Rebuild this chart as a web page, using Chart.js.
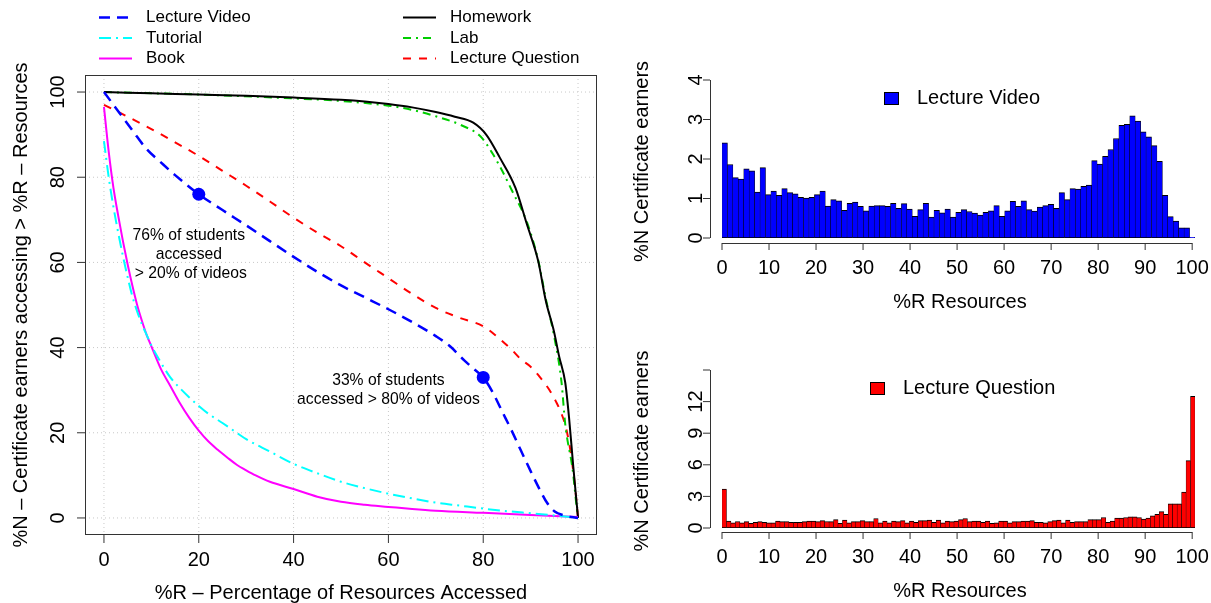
<!DOCTYPE html>
<html><head><meta charset="utf-8">
<script src="https://cdn.jsdelivr.net/npm/chart.js@4.4.1/dist/chart.umd.min.js"></script>
<style>
html,body{margin:0;padding:0;background:#fff;}
#wrap{position:relative;width:1211px;height:603px;overflow:hidden;background:#fff;}
canvas{position:absolute;left:0;top:0;}
</style></head><body>
<div id="wrap">
<canvas id="cLines" width="1211" height="603"></canvas>
<canvas id="cVideo" width="1211" height="603"></canvas>
<canvas id="cQuestion" width="1211" height="603"></canvas>
</div>
<script>
// ---------- DATA ----------
const lineTicks = [0, 20, 40, 60, 80, 100];

const videoX = [0,3,6,9,12,15,20,25,30,35,40,45,50,55,60,65,70,73,76,78,80,82,84,86,88,90,92,93.5,95,97,100];
const videoY = [100,95.5,91,86.6,83.5,80.5,76,72.3,68.7,65,61.3,57.8,54.6,51.8,49,46,42.7,40.3,37,35,33,29.5,25,20.5,15.7,11,6.5,3.5,1.6,0.6,0];

const tutorialX = [0,1,2,3,4,5,6,7,8,9,10,12,14,16,18,20,22,25,28,30,35,40,45,50,55,60,65,70,75,80,85,90,95,100];
const tutorialY = [88.5,80,73,67,61.5,56.5,52,48.5,45.5,43,40.5,36.5,33,30.5,28.3,26.3,24.5,22.3,20,18.5,15.6,12.7,10.5,8.5,7,5.7,4.6,3.6,2.9,2.2,1.6,1.1,0.6,0];

const bookX = [0,1,2,3,4,5,6,7,8,9,10,12,14,16,18,20,22,24,26,28,30,32,35,40,45,50,55,60,65,70,80,90,100];
const bookY = [96.5,86,77.5,71,65,59.5,54.5,50,46.3,43,40.3,35,31,27,23.5,20.5,18,16,14.2,12.5,11.2,10,8.5,6.8,5,3.8,3.1,2.6,2.1,1.7,1.2,0.7,0.2];

const homeworkX = [0,10,20,30,40,50,55,60,65,70,74,77.9,80.7,83.5,86.8,89.2,91.6,93.2,94.9,96,97.3,98.1,99,100];
const homeworkY = [100,99.7,99.4,99.1,98.7,98.2,97.8,97.2,96.4,95.3,94.2,92.8,89.9,84.6,77.5,69,60.3,51,43.9,38,31.8,23.6,12,0];

const labX = [0,20,40,50,60,65,70,75.4,79.5,82,84,86,89.2,91.6,93.2,94.9,96.5,97.3,98.9,99.7,100];
const labY = [100,99.4,98.5,97.9,96.8,95.8,94.3,92.2,89.5,85.5,81.5,77,69.5,60.5,51.5,43,32,22,11,2.6,0];

const questionX = [0,5,10,15,20,25,30,35,40,45,50,55,60,65,70,75,80,83,86,88,90,92,94,95.5,96.5,97.5,98.5,99.3,100];
const questionY = [97,94.2,91.3,88.2,85,81.5,78,74.3,70.5,67,63.8,60,56.3,52.6,49.3,47,45,42.5,39.5,37.2,35.5,33,30,27,24.5,21,15,8,0];

const calloutX = [20, 80];
const calloutY = [76, 33];
const calloutText = [["76% of students", "accessed", "> 20% of videos"], ["33% of students", "accessed > 80% of videos"]];

// histograms (% of certificate earners per %R bin)
const histTicks = [0,10,20,30,40,50,60,70,80,90,100];
const videoHist = [
 2.41,1.86,1.53,1.49,1.75,1.70,1.16,1.78,1.10,1.19,
 1.08,1.25,1.15,1.12,1.03,1.01,1.03,1.10,1.19,0.81,
 0.97,0.94,0.70,0.88,0.91,0.80,0.69,0.81,0.82,0.82,
 0.80,0.88,0.75,0.87,0.73,0.55,0.72,0.88,0.53,0.70,
 0.64,0.73,0.53,0.65,0.72,0.67,0.63,0.58,0.65,0.69,
 0.82,0.55,0.69,0.93,0.80,0.94,0.72,0.68,0.78,0.82,
 0.85,0.75,1.15,0.97,1.25,1.24,1.31,1.34,1.96,1.87,
 2.07,2.24,2.52,2.85,2.88,3.09,2.96,2.69,2.56,2.34,
 1.94,1.08,0.54,0.43,0.26,0.26,0.02];
const videoYTicks = [0,1,2,3,4];
const videoYLabels = ['0','1','2','3','4'];

const questionHist = [
 3.7,0.65,0.5,0.62,0.5,0.6,0.45,0.55,0.6,0.55,
 0.5,0.5,0.65,0.6,0.6,0.55,0.55,0.55,0.6,0.65,
 0.65,0.6,0.7,0.62,0.6,0.8,0.45,0.75,0.5,0.6,
 0.6,0.7,0.6,0.6,0.9,0.5,0.65,0.5,0.65,0.6,
 0.7,0.5,0.65,0.55,0.7,0.7,0.75,0.55,0.75,0.5,
 0.65,0.6,0.65,0.8,0.9,0.6,0.65,0.65,0.55,0.65,
 0.45,0.5,0.65,0.65,0.5,0.6,0.6,0.65,0.65,0.7,
 0.55,0.55,0.5,0.6,0.7,0.75,0.5,0.75,0.55,0.6,
 0.6,0.6,0.8,0.8,0.8,1.0,0.55,0.65,0.95,0.95,
 1.0,1.05,1.05,1.0,0.85,0.95,1.15,1.3,1.55,1.3,
 2.3,2.3,2.3,3.4,6.4,12.5];
const questionYTicks = [0,3,6,9,12,15];
const questionYLabels = ['0','3','6','9','12',''];

// ---------- HELPERS ----------
const FONT = '"Liberation Sans", Arial, Helvetica, sans-serif';
const W = 1211, H = 603;
function drawText(ctx, s, x, y, size, rot, align) {
  ctx.save();
  ctx.font = size + 'px ' + FONT;
  ctx.fillStyle = '#000';
  ctx.textAlign = align || 'center';
  ctx.textBaseline = 'middle';
  ctx.translate(x, y);
  if (rot) ctx.rotate(rot);
  ctx.fillText(s, 0, 0);
  ctx.restore();
}
function line(ctx, x1, y1, x2, y2, color, width, dash) {
  ctx.save();
  ctx.strokeStyle = color; ctx.lineWidth = width || 1;
  ctx.setLineDash(dash || []);
  ctx.beginPath(); ctx.moveTo(x1, y1); ctx.lineTo(x2, y2); ctx.stroke();
  ctx.restore();
}
const pts = (xs, ys) => xs.map((x, i) => ({x: x, y: ys[i]}));
const AXIS = '#333';

// ---------- LEFT: line chart ----------
const lineSeries = [
  {label: 'Lecture Video', x: videoX, y: videoY, color: '#0000FF', width: 2.5, dash: [11, 7]},
  {label: 'Tutorial', x: tutorialX, y: tutorialY, color: '#00FFFF', width: 2, dash: [12, 5, 2, 5]},
  {label: 'Book', x: bookX, y: bookY, color: '#FF00FF', width: 2, dash: []},
  {label: 'Homework', x: homeworkX, y: homeworkY, color: '#000000', width: 2, dash: []},
  {label: 'Lab', x: labX, y: labY, color: '#00CD00', width: 2, dash: [8, 5, 2, 5]},
  {label: 'Lecture Question', x: questionX, y: questionY, color: '#FF0000', width: 2, dash: [8, 8]}
];

const leftDecor = {
  id: 'leftDecor',
  beforeDatasetsDraw(chart) {
    const ctx = chart.ctx, a = chart.chartArea, sx = chart.scales.x, sy = chart.scales.y;
    lineTicks.forEach(t => {
      const px = sx.getPixelForValue(t), py = sy.getPixelForValue(t);
      line(ctx, px, a.top, px, a.bottom, '#c8c8c8', 1, [1, 3]);
      line(ctx, a.left, py, a.right, py, '#c8c8c8', 1, [1, 3]);
    });
  },
  afterDatasetsDraw(chart) {
    const ctx = chart.ctx, a = chart.chartArea, sx = chart.scales.x, sy = chart.scales.y;
    ctx.save();
    ctx.strokeStyle = AXIS; ctx.lineWidth = 1;
    ctx.strokeRect(a.left + 0.5, a.top + 0.5, a.right - a.left - 1, a.bottom - a.top - 1);
    ctx.restore();
    lineTicks.forEach(t => {
      const px = sx.getPixelForValue(t), py = sy.getPixelForValue(t);
      line(ctx, px, a.bottom, px, a.bottom + 8, AXIS, 1);
      line(ctx, a.left, py, a.left - 8, py, AXIS, 1);
      drawText(ctx, String(t), px, a.bottom + 25, 20);
      drawText(ctx, String(t), a.left - 27, py, 20, -Math.PI / 2);
    });
    drawText(ctx, '%R \u2013 Percentage of Resources Accessed', (a.left + a.right) / 2, a.bottom + 58, 20);
    drawText(ctx, '%N \u2013 Certificate earners accessing > %R \u2013 Resources', 21, (a.top + a.bottom) / 2, 20, -Math.PI / 2);
    // callout texts
    const c1x = sx.getPixelForValue(17.9);
    drawText(ctx, calloutText[0][0], c1x, sy.getPixelForValue(66.2), 15.7);
    drawText(ctx, calloutText[0][1], c1x, sy.getPixelForValue(61.7), 15.7);
    drawText(ctx, calloutText[0][2], sx.getPixelForValue(18.3), sy.getPixelForValue(57.4), 15.7);
    const c2x = sx.getPixelForValue(60);
    drawText(ctx, calloutText[1][0], c2x, sy.getPixelForValue(32.2), 15.7);
    drawText(ctx, calloutText[1][1], c2x, sy.getPixelForValue(27.8), 15.7);
    // legend
    const cols = [{lx: 99, tx: 146}, {lx: 403, tx: 450}];
    const rows = [17.5, 38, 58.5];
    lineSeries.forEach((s, i) => {
      const c = cols[Math.floor(i / 3)], ry = rows[i % 3];
      line(ctx, c.lx, ry, c.lx + 33, ry, s.color, s.width, s.dash);
      drawText(ctx, s.label, c.tx, ry, 17, 0, 'left');
    });
  }
};

const lineDatasets = [{
  label: 'callouts', data: pts(calloutX, calloutY), showLine: false,
  pointRadius: 6.5, pointBackgroundColor: '#0000FF', pointBorderColor: '#0000FF', pointBorderWidth: 0
}].concat(lineSeries.map(s => ({
  label: s.label, data: pts(s.x, s.y), showLine: true, pointRadius: 0,
  borderColor: s.color, borderWidth: s.width, borderDash: s.dash,
  cubicInterpolationMode: 'monotone', fill: false
})));

new Chart(document.getElementById('cLines'), {
  type: 'scatter',
  data: {datasets: lineDatasets},
  options: {
    responsive: false, animation: false, devicePixelRatio: 1, events: [],
    layout: {padding: {left: 85, top: 75, right: W - 597, bottom: H - 535}},
    plugins: {legend: {display: false}, tooltip: {enabled: false}},
    scales: {
      x: {type: 'linear', min: -4, max: 104, display: false},
      y: {type: 'linear', min: -4, max: 104, display: false}
    }
  },
  plugins: [leftDecor]
});

// ---------- RIGHT: histograms ----------
function histChart(id, values, color, legendLabel, yMax, yTicks, yLabels, area, legendPos) {
  const deco = {
    id: 'histDecor' + id,
    afterDatasetsDraw(chart) {
      const ctx = chart.ctx, a = chart.chartArea, sxt = chart.scales.xt, sy = chart.scales.y;
      const axisX = a.left - 12, axisY = a.bottom + area.axisGap;
      // y axis
      line(ctx, axisX + 0.5, sy.getPixelForValue(yTicks[0]), axisX + 0.5, sy.getPixelForValue(yTicks[yTicks.length - 1]), AXIS, 1);
      yTicks.forEach((t, i) => {
        const py = sy.getPixelForValue(t);
        line(ctx, axisX, py, axisX - 7, py, AXIS, 1);
        if (yLabels[i]) drawText(ctx, yLabels[i], axisX - 14, py, 20, -Math.PI / 2);
      });
      // x axis
      line(ctx, sxt.getPixelForValue(histTicks[0]), axisY + 0.5, sxt.getPixelForValue(histTicks[histTicks.length - 1]), axisY + 0.5, AXIS, 1);
      histTicks.forEach(t => {
        const px = sxt.getPixelForValue(t);
        line(ctx, px, axisY, px, axisY + 7, AXIS, 1);
        drawText(ctx, String(t), px, axisY + 25, 20);
      });
      drawText(ctx, '%R Resources', 960, axisY + 59, 20);
      drawText(ctx, '%N Certificate earners', 642, (a.top + axisY) / 2, 20, -Math.PI / 2);
      // legend
      ctx.save();
      ctx.fillStyle = color; ctx.strokeStyle = '#000'; ctx.lineWidth = 1;
      ctx.fillRect(legendPos.x, legendPos.y, 15, 13);
      ctx.strokeRect(legendPos.x + 0.5, legendPos.y + 0.5, 14, 12);
      ctx.restore();
      drawText(ctx, legendLabel, legendPos.x + 33, legendPos.y + 6.5, 20, 0, 'left');
    }
  };
  return new Chart(document.getElementById(id), {
    type: 'bar',
    data: {
      labels: values.map((v, i) => String(i)),
      datasets: [{
        label: legendLabel, data: values, backgroundColor: color, borderColor: '#000',
        borderWidth: {left: 0.5, right: 0.5, top: 1, bottom: 1}, borderSkipped: false,
        barPercentage: 1, categoryPercentage: 1
      }]
    },
    options: {
      responsive: false, animation: false, devicePixelRatio: 1, events: [],
      layout: {padding: {left: area.left, top: area.top, right: W - area.right, bottom: H - area.bottom}},
      plugins: {legend: {display: false}, tooltip: {enabled: false}},
      scales: {
        x: {type: 'category', offset: true, display: false},
        xt: {type: 'linear', axis: 'x', min: 0, max: 100.6, offset: false, grid: {offset: false}, display: false, ticks: {includeBounds: false}},
        y: {type: 'linear', min: 0, max: yMax, display: false}
      }
    },
    plugins: [deco]
  });
}

histChart('cVideo', videoHist, '#0000FF', 'Lecture Video', 4, videoYTicks, videoYLabels,
  {left: 722, right: 1195, top: 80, bottom: 238, axisGap: 5}, {x: 884, y: 92});
histChart('cQuestion', questionHist, '#FF0000', 'Lecture Question', 15, questionYTicks, questionYLabels,
  {left: 722, right: 1195, top: 370, bottom: 528, axisGap: 4}, {x: 870, y: 382});
</script>
</body></html>
